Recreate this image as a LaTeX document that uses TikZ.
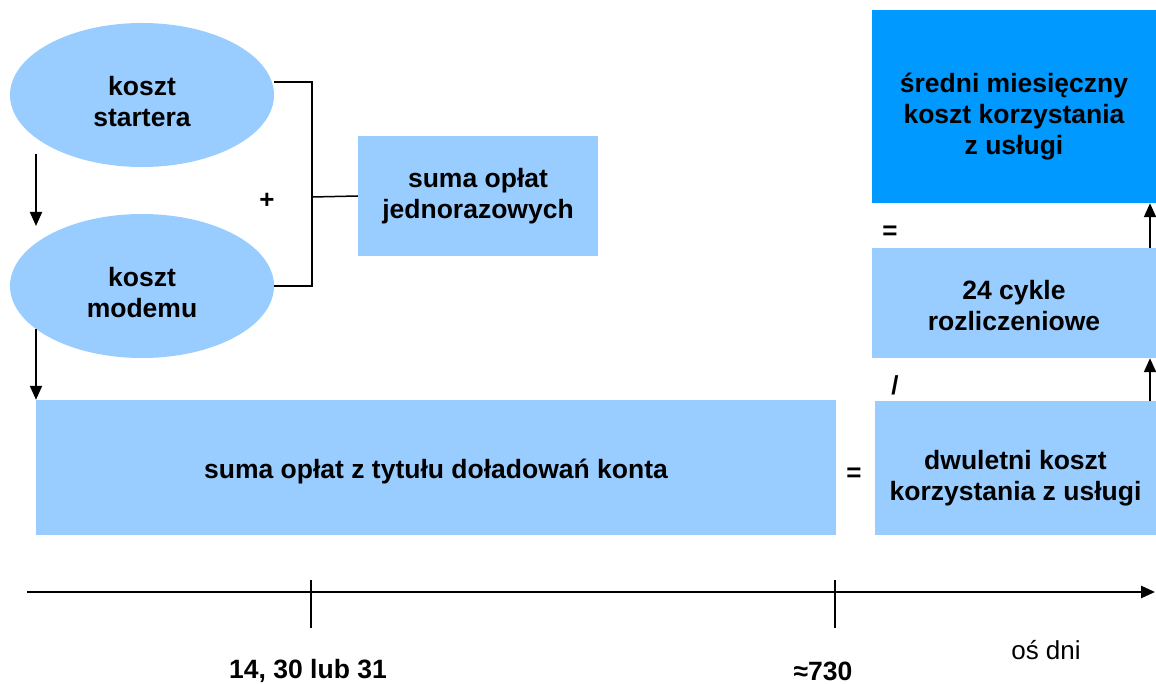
\documentclass[tikz,border=0pt]{standalone}
\usepackage{fontspec}
\setmainfont{Liberation Sans}
\usetikzlibrary{arrows.meta,shapes.geometric}
\definecolor{lightb}{HTML}{99CCFF}
\definecolor{darkb}{HTML}{0099FF}
\tikzset{
  txt/.style={font=\fontsize{26.5}{31}\selectfont\bfseries, align=center, inner sep=0pt},
  ell/.style={ellipse, fill=lightb, draw=none, minimum width=264pt, minimum height=144pt},
  boxl/.style={rectangle, fill=lightb, draw=none},
  conn/.style={line width=1.5pt},
  arr/.style={line width=2pt, -{Triangle[length=14pt,width=12pt]}},
  op/.style={font=\fontsize{26}{30}\selectfont\bfseries, inner sep=0pt},
}
\begin{document}
\begin{tikzpicture}[x=1pt,y=-1pt]
\useasboundingbox (0,0) rectangle (1156,684);
% ellipses
\node[ell] (e1) at (142,95) {};
\node[txt] (e1t) at (142,102) {koszt\\startera};
\node[ell] (e2) at (142,286) {};
\node[txt] (e2t) at (142,293) {koszt\\modemu};
% boxes
\node[boxl, minimum width=240pt, minimum height=120pt] (s1) at (478,196) {};
\node[txt] (s1t) at (478,196) {suma opłat\\jednorazowych};
\node[boxl, minimum width=800pt, minimum height=135pt] (big) at (436,467.5) {};
\node[txt] (bigt) at (436,472) {suma opłat z tytułu doładowań konta};
\node[boxl, minimum width=281pt, minimum height=134pt] (dw) at (1015.5,468) {};
\node[txt] (dwt) at (1015.5,478) {dwuletni koszt\\korzystania z usługi};
\node[boxl, minimum width=284pt, minimum height=110pt] (cy) at (1014,303) {};
\node[txt] (cyt) at (1014,306) {24 cykle\\rozliczeniowe};
\node[rectangle, fill=darkb, draw=none, minimum width=284pt, minimum height=193pt] (sr) at (1014,106.5) {};
\node[txt] (srt) at (1014,117) {średni miesięczny\\koszt korzystania\\z usługi};
% operators
\node[op] (plus) at (267,201) {+};
\node[op] (eq1) at (854,475) {=};
\node[op] (eq2) at (890,233) {=};
\node[op] (sl) at (895,385) {/};
% bracket
\coordinate (bj) at (312,197);
\draw[conn] ([yshift=13pt]e1.east) -| (bj) |- (e2.east);
\draw[conn] (bj) -- (s1.west);
% left arrows
\coordinate (a1s) at (36,154);
\coordinate (a1e) at (36,226);
\coordinate (a2s) at (36,329);
\draw[arr] (a1s) -- (a1e);
\draw[arr] (a2s) -- (a2s |- big.north);
% right arrows
\coordinate (r1) at (1150,401);
\coordinate (r2) at (1150,248);
\draw[arr] (r1) -- (r1 |- cy.south);
\draw[arr] (r2) -- (r2 |- sr.south);
% axis
\coordinate (ax0) at (27,592);
\coordinate (ax1) at (1155,592);
\draw[line width=2.5pt, -{Triangle[length=14pt,width=12pt]}] (ax0) -- (ax1);
\coordinate (t1a) at (311,580); \coordinate (t1b) at (311,628);
\coordinate (t2a) at (835,580); \coordinate (t2b) at (835,628);
\draw[line width=1.5pt] (t1a) -- (t1b);
\draw[line width=1.5pt] (t2a) -- (t2b);
\node[txt] (l1) at (308,671) {14, 30 lub 31};
\node[txt] (l2) at (823,671) {≈730};
\node[font=\fontsize{26}{30}\selectfont, inner sep=0pt] (l3) at (1046,650) {oś dni};
\end{tikzpicture}
\end{document}
